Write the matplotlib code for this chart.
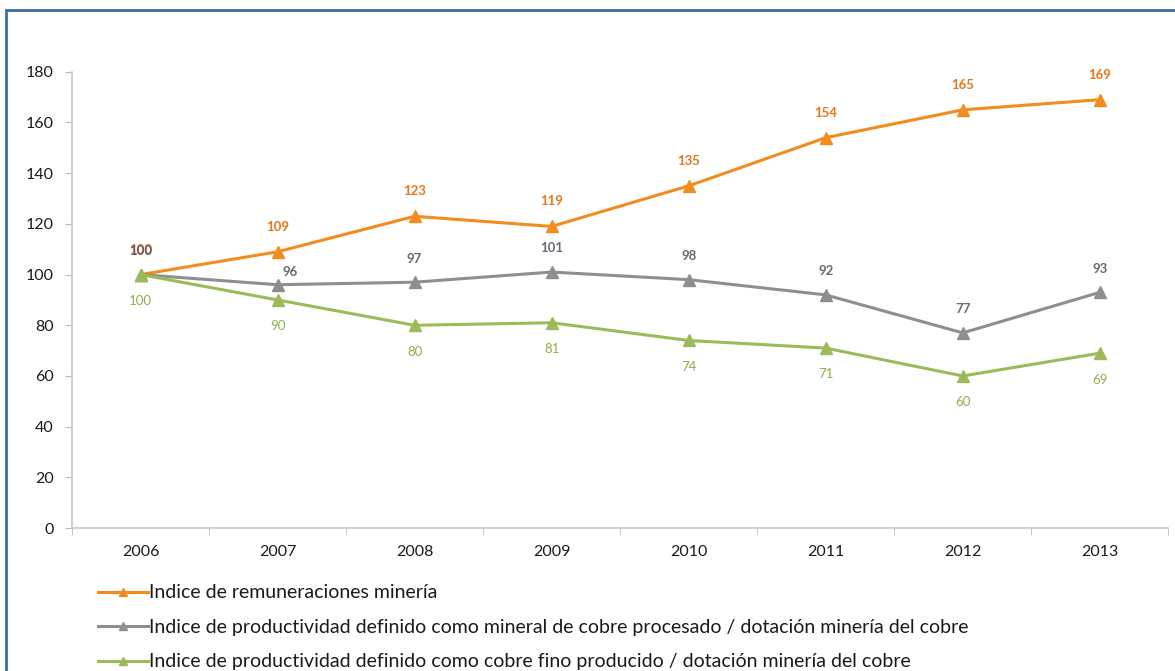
import matplotlib.pyplot as plt
from matplotlib.patches import Rectangle

plt.rcParams['font.family'] = ['Lato', 'DejaVu Sans']

years = ["2006", "2007", "2008", "2009", "2010", "2011", "2012", "2013"]
remuneraciones = [100, 109, 123, 119, 135, 154, 165, 169]
prod_mineral = [100, 96, 97, 101, 98, 92, 77, 93]
prod_fino = [100, 90, 80, 81, 74, 71, 60, 69]

labels = ["Indice de remuneraciones minería",
          "Indice de productividad definido como mineral de cobre procesado / dotación minería del cobre",
          "Indice de productividad definido como cobre fino producido / dotación minería del cobre"]
colors = ["#F28C1E", "#8E8E8E", "#9BBB59"]
label_colors = ["#E8761A", "#555566", "#8DB04A"]

fig = plt.figure(figsize=(11.75, 6.71), dpi=100)
ax = fig.add_axes([0.0613, 0.213, 0.933, 0.68])

x = list(range(len(years)))
series = [remuneraciones, prod_mineral, prod_fino]
for vals, c, lab in zip(series, colors, labels):
    ax.plot(x, vals, color=c, lw=2.2, marker="^", markersize=8, label=lab)

# data labels
for i, v in enumerate(remuneraciones):
    ax.annotate(str(v), (i, v), xytext=(0, 18), textcoords="offset points",
                ha="center", va="center", fontsize=9.5, fontweight="bold", color=label_colors[0])
for i, v in enumerate(prod_mineral):
    if i == 0:
        continue
    off = (9, 9) if i == 1 else (0, 17)
    ax.annotate(str(v), (i, v), xytext=off, textcoords="offset points",
                ha="center", va="center", fontsize=9.5, fontweight="bold", color="#6A6A72")
ax.annotate("100", (0, 100), xytext=(0, 17), textcoords="offset points",
            ha="center", va="center", fontsize=9.5, fontweight="bold", color="#6B5A5E")
for i, v in enumerate(prod_fino):
    ax.annotate(str(v), (i, v), xytext=(0, -19), textcoords="offset points",
                ha="center", va="center", fontsize=9.5, color=label_colors[2])

ax.set_xlim(-0.5, len(years) - 0.5)
ax.set_ylim(0, 180)
ax.set_yticks(range(0, 181, 20))
ax.set_xticks(x)
ax.set_xticklabels(years)
ax.set_xticks([i + 0.5 for i in range(-1, len(years))], minor=True)
ax.tick_params(axis="x", which="major", length=0, pad=12, labelsize=11.5, labelcolor="#1A1A1A")
ax.tick_params(axis="x", which="minor", length=5, color="#BBBBBB", direction="out")
ax.tick_params(axis="y", length=5, color="#BBBBBB", labelsize=11.5, pad=8, labelcolor="#1A1A1A")
for s in ["top", "right"]:
    ax.spines[s].set_visible(False)
for s in ["left", "bottom"]:
    ax.spines[s].set_color("#C8C8C8")
    ax.spines[s].set_linewidth(1.2)

fig.legend(loc="upper left", bbox_to_anchor=(0.083, 0.129), frameon=False,
           fontsize=14, handlelength=2.6, handletextpad=0.05, labelspacing=0.9,
           markerscale=0.75, borderpad=0, borderaxespad=0, labelcolor="#1A1A1A")

fig.patches.append(Rectangle((0.005, -0.1), 1.2, 1.085, transform=fig.transFigure,
                             fill=False, edgecolor="#3C6DA8", lw=2, zorder=10))

fig.savefig("out.png", dpi=100)
